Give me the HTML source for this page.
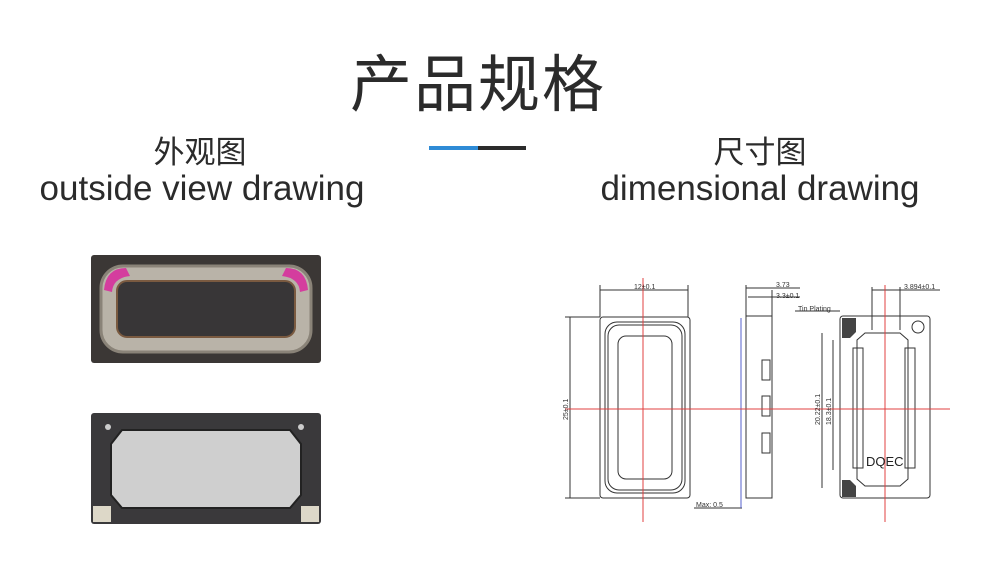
<!DOCTYPE html>
<html><head><meta charset="utf-8"><style>
body{margin:0;width:981px;height:567px;background:#fff;overflow:hidden;position:relative;font-family:"Liberation Sans","Noto Sans CJK SC",sans-serif;color:#2b2b2b}
.t{position:absolute;white-space:nowrap;text-align:center}
</style></head><body>
<div class="t" style="left:340px;top:48px;width:276px;font-size:62px;line-height:76px;letter-spacing:2px">产品规格</div>
<div style="position:absolute;left:429px;top:146px;width:49px;height:4px;background:#2e8bd6"></div>
<div style="position:absolute;left:478px;top:146px;width:48px;height:4px;background:#2b2b2b"></div>
<div class="t" style="left:80px;top:133px;width:240px;font-size:31px;line-height:40px">外观图</div>
<div class="t" style="left:0px;top:168px;width:404px;font-size:35px;line-height:42px">outside view drawing</div>
<div class="t" style="left:640px;top:133px;width:240px;font-size:31px;line-height:40px">尺寸图</div>
<div class="t" style="left:558px;top:168px;width:404px;font-size:35px;line-height:42px">dimensional drawing</div>
<svg style="position:absolute;left:0;top:0" width="981" height="567">
<rect x="91" y="255" width="230" height="108" rx="3" fill="#3b3735"/>
<rect x="101" y="266" width="210" height="86" rx="22" fill="#b9b3a8" stroke="#8a8378" stroke-width="3"/>
<rect x="117" y="281" width="178" height="56" rx="10" fill="#383637" stroke="#7a5a40" stroke-width="2"/>
<path d="M104 290 Q106 268 126 268 L130 276 Q113 278 112 292Z" fill="#d43d9e"/>
<path d="M308 290 Q306 268 286 268 L282 276 Q299 278 300 292Z" fill="#d43d9e"/>
<rect x="91" y="413" width="230" height="111" rx="3" fill="#3a393b"/>
<path d="M122 430 H290 L301 444 V495 L290 508 H122 L111 495 V444Z" fill="#cfcfcf" stroke="#222" stroke-width="2"/>
<rect x="93" y="506" width="18" height="16" fill="#ddd8c8"/>
<rect x="301" y="506" width="18" height="16" fill="#ddd8c8"/>
<circle cx="108" cy="427" r="3" fill="#ccc"/><circle cx="301" cy="427" r="3" fill="#ccc"/>
<g fill="none" stroke="#333" stroke-width="1">
<rect x="600" y="317" width="90" height="181" rx="3"/>
<rect x="605" y="322" width="80" height="171" rx="12"/>
<rect x="608" y="325" width="74" height="165" rx="11"/>
<rect x="618" y="336" width="54" height="143" rx="8"/>
<line x1="570" y1="317" x2="570" y2="498"/><line x1="565" y1="317" x2="600" y2="317"/><line x1="565" y1="498" x2="600" y2="498"/>
<line x1="600" y1="290" x2="688" y2="290"/><line x1="600" y1="285" x2="600" y2="317"/><line x1="688" y1="285" x2="688" y2="317"/>
<rect x="746" y="316" width="26" height="182"/>
<line x1="772" y1="290" x2="772" y2="316"/><line x1="746" y1="285" x2="746" y2="316"/>
<line x1="746" y1="288" x2="800" y2="288"/><line x1="748" y1="297" x2="800" y2="297"/>
<line x1="795" y1="311" x2="840" y2="311"/>
<rect x="762" y="360" width="8" height="20"/><rect x="762" y="396" width="8" height="20"/><rect x="762" y="433" width="8" height="20"/>
<line x1="694" y1="508" x2="742" y2="508"/>
<rect x="840" y="316" width="90" height="182" rx="3"/>
<path d="M865 333 H900 L908 340 V479 L900 486 H865 L857 479 V340Z"/>
<rect x="853" y="348" width="10" height="120"/><rect x="905" y="348" width="10" height="120"/>
<line x1="822" y1="333" x2="822" y2="488"/><line x1="833" y1="340" x2="833" y2="470"/>
<line x1="872" y1="287" x2="872" y2="330"/><line x1="900" y1="287" x2="900" y2="330"/><line x1="872" y1="290" x2="940" y2="290"/>
<circle cx="918" cy="327" r="6"/>
</g>
<path d="M842 318 H856 V332 L850 338 H842Z" fill="#444"/>
<path d="M842 480 H850 L856 486 V497 H842Z" fill="#444"/>
<line x1="741" y1="318" x2="741" y2="508" stroke="#5560cc"/>
<g stroke="#e04040" stroke-width="1">
<line x1="565" y1="409" x2="950" y2="409"/>
<line x1="643" y1="278" x2="643" y2="522"/>
<line x1="885" y1="285" x2="885" y2="522"/>
</g>
<g font-family="Liberation Sans,sans-serif" font-size="7" fill="#333">
<text x="634" y="289">12±0.1</text>
<text x="776" y="287">3.73</text>
<text x="776" y="298">3.3±0.1</text>
<text x="798" y="311">Tin Plating</text>
<text x="904" y="289">3.894±0.1</text>
<text x="696" y="507">Max: 0.5</text>
<text transform="translate(568,420) rotate(-90)">25±0.1</text>
<text transform="translate(820,425) rotate(-90)">20.22±0.1</text>
<text transform="translate(831,425) rotate(-90)">18.3±0.1</text>
</g>
<text x="866" y="466" font-family="Liberation Sans,sans-serif" font-size="13" fill="#222">DQEC</text>
</svg>
</body></html>
